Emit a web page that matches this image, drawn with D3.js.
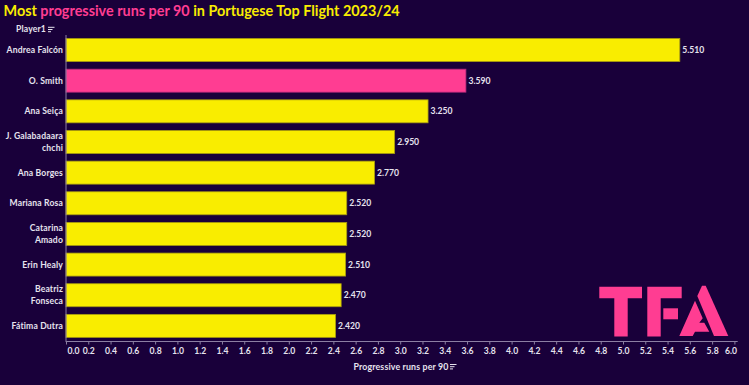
<!DOCTYPE html>
<html lang="en">
<head>
  <meta charset="UTF-8">
  <title>Most progressive runs per 90</title>
  <style>
    html, body { margin: 0; padding: 0; background: #19003a; }
    svg { display: block; }
    text { font-family: Lato, "Noto Sans", sans-serif; }
  </style>
</head>
<body>
  <svg id="svg" width="749" height="385"></svg>

  <script src="https://d3js.org/d3.v7.min.js"></script>
  <script>
    const players = [
      ['Andrea Falcón'],
      ['O. Smith'],
      ['Ana Seiça'],
      ['J. Galabadaara', 'chchi'],
      ['Ana Borges'],
      ['Mariana Rosa'],
      ['Catarina', 'Amado'],
      ['Erin Healy'],
      ['Beatriz', 'Fonseca'],
      ['Fátima Dutra']
    ]
    const runs = [5.51, 3.59, 3.25, 2.95, 2.77, 2.52, 2.52, 2.51, 2.47, 2.42]
    const highlighted = ['O. Smith']
    const xTicks = d3.range(0, 31).map(d => d / 5)

    const yellow = '#f9ed00'
    const pink = '#ff3d92'
    const textCol = '#e6e3ee'
    const axisCol = '#8c7fa3'

    const svg = d3.select('#svg')
    const names = players.map(d => d.join(' '))

    const xScale = d3.scaleLinear().domain([0, 6]).range([66, 734.4])
    const yScale = d3.scaleBand()
      .domain(names)
      .range([34.7, 341.2])
      .paddingInner(0.25)
      .paddingOuter(0.125)

    // title, three colours
    const title = svg.append('text')
      .attr('x', 3.5)
      .attr('y', 15.5)
      .attr('font-size', 14.4)
      .attr('font-weight', 700)
      .attr('fill', yellow)
    title.append('tspan').text('Most ')
    title.append('tspan').attr('fill', pink).text('progressive runs per 90')
    title.append('tspan').text(' in Portugese Top Flight 2023/24')

    // bars
    svg.selectAll('rect.bar')
      .data(names)
      .enter()
      .append('rect')
      .attr('class', 'bar')
      .attr('x', xScale(0))
      .attr('y', d => yScale(d))
      .attr('width', (d, i) => xScale(runs[i]) - xScale(0))
      .attr('height', yScale.bandwidth())
      .attr('fill', d => highlighted.includes(d) ? pink : yellow)
      .attr('stroke', d => highlighted.includes(d) ? '#b02a78' : '#a89c10')
      .attr('stroke-width', 0.8)

    // value labels
    svg.selectAll('text.value')
      .data(names)
      .enter()
      .append('text')
      .attr('class', 'value')
      .attr('x', (d, i) => xScale(runs[i]) + 2.5)
      .attr('y', d => yScale(d) + yScale.bandwidth() / 2 + 3)
      .attr('font-size', 8.6)
      .attr('font-weight', 700)
      .attr('fill', textCol)
      .text((d, i) => runs[i].toFixed(3))

    // player labels, some wrap on two lines
    players.forEach((lines, i) => {
      const mid = yScale(names[i]) + yScale.bandwidth() / 2
      lines.forEach((line, j) => {
        svg.append('text')
          .attr('x', 63)
          .attr('y', mid + 3 + (j - (lines.length - 1) / 2) * 12)
          .attr('text-anchor', 'end')
          .attr('font-size', 8.6)
          .attr('letter-spacing', 0.15)
          .attr('font-weight', 700)
          .attr('fill', textCol)
          .text(line)
      })
    })

    // y axis line and header
    svg.append('line')
      .attr('x1', 66).attr('x2', 66)
      .attr('y1', 35).attr('y2', 342)
      .attr('stroke', axisCol)
    svg.append('text')
      .attr('x', 46)
      .attr('y', 32)
      .attr('text-anchor', 'end')
      .attr('font-size', 8.6)
      .attr('letter-spacing', 0.15)
      .attr('font-weight', 700)
      .attr('fill', textCol)
      .text('Player1')

    function sortIcon(x, y) {
      [6.5, 4.5, 3].forEach((w, i) => {
        svg.append('rect')
          .attr('x', x).attr('y', y + i * 2.2)
          .attr('width', w).attr('height', 1)
          .attr('fill', textCol)
      })
    }
    sortIcon(48, 26.8)

    // x axis
    const xAxis = d3.axisBottom(xScale)
      .tickValues(xTicks)
      .tickSize(3)
      .tickFormat(d3.format('.1f'))
    const gx = svg.append('g')
      .attr('transform', 'translate(0,341.5)')
      .call(xAxis)
    gx.select('.domain')
      .attr('stroke', axisCol)
      .attr('d', 'M66,0H737.7')
    gx.selectAll('.tick line').attr('stroke', axisCol)
    gx.selectAll('.tick text')
      .attr('fill', textCol)
      .attr('font-size', 8.6)
      .attr('font-weight', 700)
      .attr('font-family', 'Lato, sans-serif')
      .attr('y', 6.5)
      .attr('dx', d => d === 0 ? 7 : (d === 6 ? -4 : 0))

    svg.append('text')
      .attr('x', 401)
      .attr('y', 370)
      .attr('text-anchor', 'middle')
      .attr('font-size', 8.8)
      .attr('letter-spacing', 0.15)
      .attr('font-weight', 700)
      .attr('fill', textCol)
      .text('Progressive runs per 90')
    sortIcon(450, 364)

    // TFA logo
    const logo = [
      [[599.3, 286.7], [642, 286.7], [642, 298.3], [627.7, 298.3], [627.7, 336.5], [614.3, 336.5], [614.3, 298.3], [599.3, 298.3]],
      [[647.3, 286.7], [681.7, 286.7], [681.7, 298.3], [660.7, 298.3], [660.7, 336.5], [647.3, 336.5]],
      [[663.3, 308.3], [678, 308.3], [678, 319.3], [663.3, 319.3]],
      [[702, 285.7], [705.7, 285.7], [728.3, 336], [714, 336], [697.3, 296]],
      [[695, 300.7], [702.7, 318.3], [699.3, 322.7], [704.3, 322.7], [709.3, 331.7], [695, 331.7], [692.7, 336], [679.3, 336]]
    ]
    svg.selectAll('polygon')
      .data(logo)
      .enter()
      .append('polygon')
      .attr('points', d => d.join(' '))
      .attr('fill', pink)
  </script>
</body>
</html>
